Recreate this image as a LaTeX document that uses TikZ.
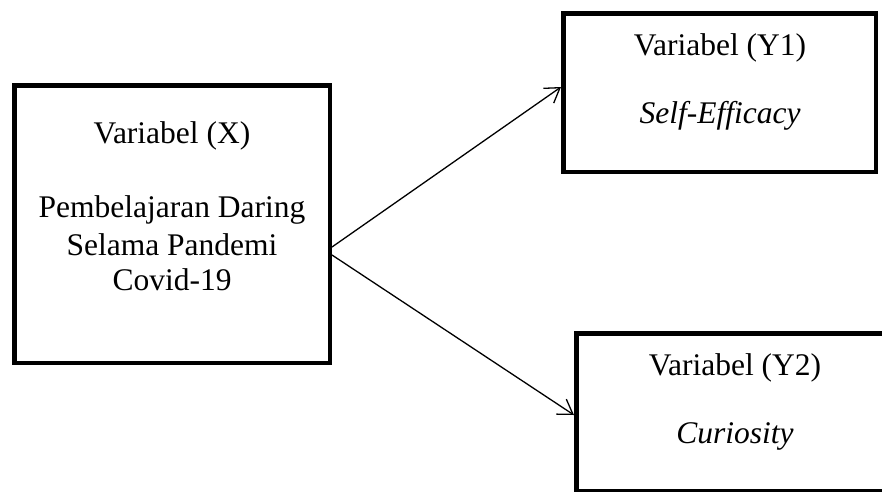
\documentclass[tikz,border=0pt]{standalone}
\usepackage{fontspec}
\setmainfont{Liberation Serif}
\usetikzlibrary{arrows.meta}
\begin{document}
\begin{tikzpicture}[x=1pt,y=-1pt,
  varbox/.style={draw=black,line width=4.5pt,rectangle,inner sep=0pt,minimum width=#1},
  lbl/.style={anchor=base,inner sep=0pt,font=\fontsize{31.5}{36}\selectfont},
  link/.style={line width=1.3pt,-{Straight Barb[length=14pt,width=18pt,line width=1.3pt]}}]
\useasboundingbox (0,0) rectangle (882,491);
\clip (0,0) rectangle (882,491);
\fill[white] (0,0) rectangle (882,491);
% boxes (centre lines)
\node[varbox=315.5pt,minimum height=277.5pt] (X) at (172,224) {};
\node[varbox=312.5pt,minimum height=158.5pt] (Y1) at (719.5,92.5) {};
\node[varbox=323.75pt,minimum height=158.25pt] (Y2) at (738.125,412.375) {};
% texts
\node[lbl] (xa) at (172,143) {Variabel (X)};
\node[lbl] (xb) at (172,217) {Pembelajaran Daring};
\node[lbl] (xc) at (172,255) {Selama Pandemi};
\node[lbl] (xd) at (172,290) {Covid-19};
\node[lbl] (ya) at (720,55) {Variabel (Y1)};
\node[lbl] (yb) at (720,123) {\itshape Self-Efficacy};
\node[lbl] (za) at (735,375) {Variabel (Y2)};
\node[lbl] (zb) at (735,443) {\itshape Curiosity};
% connectors
\coordinate (s1) at (332,247);
\coordinate (s2) at (332,255);
\draw[link] (s1) -- (Y1.west |- 0,87);
\draw[link] (s2) -- (Y2.west |- 0,415);
\end{tikzpicture}
\end{document}
